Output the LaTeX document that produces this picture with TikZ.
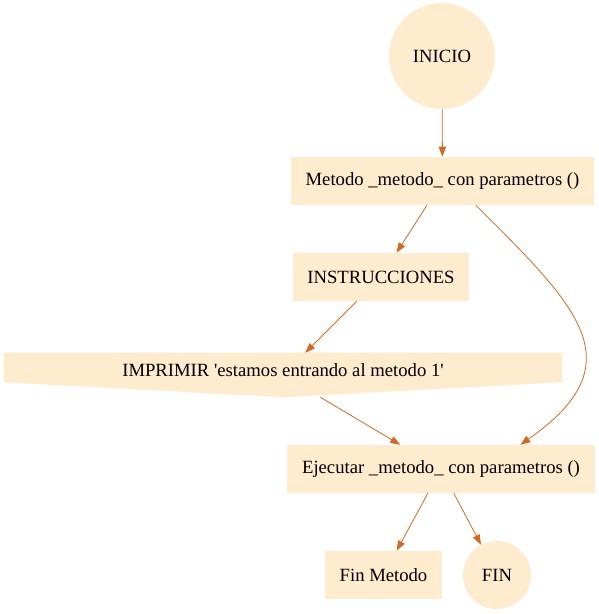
\documentclass[tikz,border=0pt]{standalone}
\usepackage{fontspec}
\setmainfont{Liberation Serif}
\usepackage{tikz}
\usetikzlibrary{arrows.meta, backgrounds}

\definecolor{nodefill}{HTML}{FFEBCD}
\definecolor{edgecol}{HTML}{D2691E}

\begin{document}
\begin{tikzpicture}[x=0.75pt, y=-0.75pt,
    font=\fontsize{14pt}{16pt}\selectfont,
    caja/.style={rectangle, fill=nodefill, inner xsep=11pt, minimum height=36pt},
    redondo/.style={circle, fill=nodefill, inner sep=0pt},
    flecha/.style={-{Triangle[length=7.5pt, width=5.5pt]}, edgecol, line width=0.6pt}]
\useasboundingbox (0,0) rectangle (599,614);

% nodes of the flow
\node[redondo, minimum size=79.5pt] (inicio) at (442,56) {INICIO};
\node[caja] (metodo) at (442.5,181) {Metodo \_metodo\_ con parametros ()};
\node[caja] (instr) at (381,277) {INSTRUCCIONES};
\node[rectangle, minimum width=418.5pt, minimum height=33pt, text height=10pt, text depth=8pt] (imprimir) at (283,375) {IMPRIMIR \textquotesingle estamos entrando al metodo 1\textquotesingle};
\node[caja] (ejecutar) at (441,469) {Ejecutar \_metodo\_ con parametros ()};
\node[caja] (finmetodo) at (383.5,575) {Fin Metodo};
\node[redondo, minimum size=51pt] (fin) at (497,575) {FIN};

% pointed box behind the print node
\begin{scope}[on background layer]
\fill[nodefill] (imprimir.north west) -- (imprimir.north east) -- ([yshift=11.25pt]imprimir.south east)
    -- (imprimir.south) -- ([yshift=11.25pt]imprimir.south west) -- cycle;
\end{scope}

% connectors
\draw[flecha] (inicio) -- (metodo);
\draw[flecha] (metodo) -- (instr);
\draw[flecha] (metodo.-36) to[out=-45, in=35, looseness=1.5] (ejecutar.17);
\draw[flecha] (instr) -- (imprimir);
\draw[flecha] (imprimir) -- (ejecutar);
\draw[flecha] (ejecutar) -- (finmetodo);
\draw[flecha] (ejecutar) -- (fin);
\end{tikzpicture}
\end{document}
